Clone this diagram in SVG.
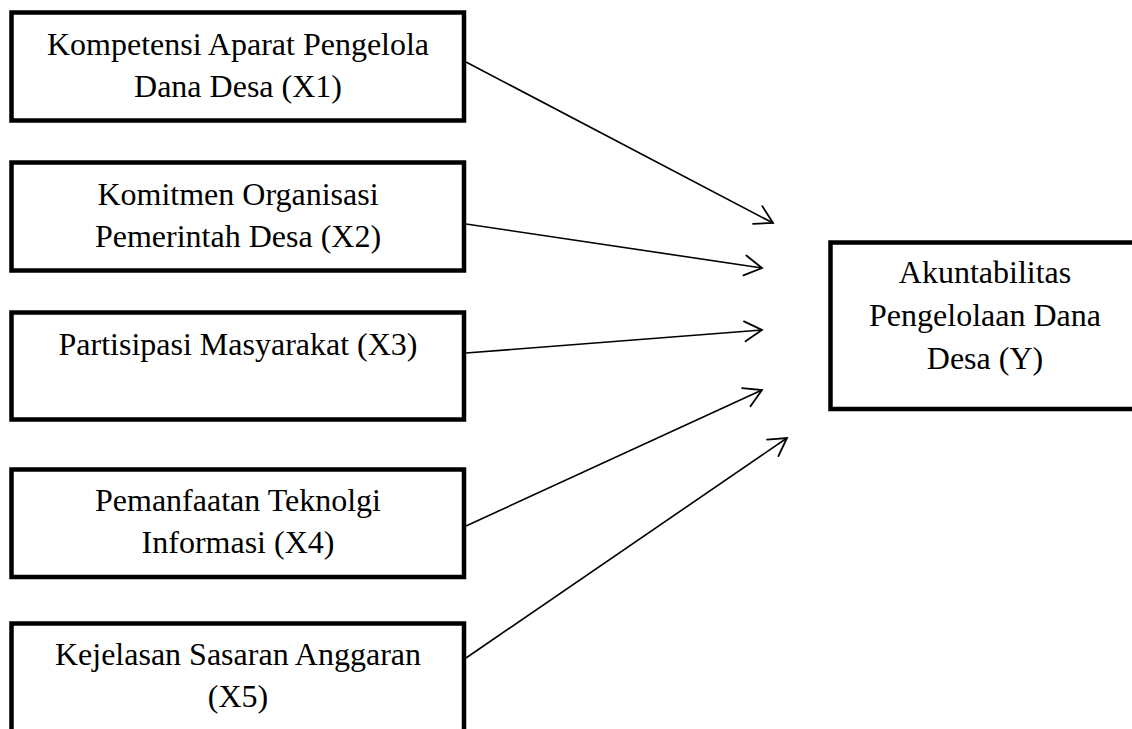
<svg xmlns="http://www.w3.org/2000/svg" width="1132" height="729" viewBox="0 0 1132 729">
<style>
.box{fill:#fff;stroke:#000;stroke-width:4.5}
.t{font-family:"Liberation Serif","Times New Roman",serif;font-size:32px;fill:#000;text-anchor:middle}
.c{stroke:#000;stroke-width:1.6;fill:none;marker-end:url(#ah)}
</style>
<defs>
<marker id="ah" markerUnits="userSpaceOnUse" orient="auto" markerWidth="40" markerHeight="40" viewBox="-20 -20 40 40" refX="0" refY="0">
<path d="M-17.3,-10 L0,0 L-17.3,10" fill="none" stroke="#000" stroke-width="1.8" stroke-linecap="round" stroke-linejoin="miter"/>
</marker>
</defs>
<rect width="1132" height="729" fill="#fff"/>
<g id="x1">
<rect class="box" x="11.5" y="12.5" width="452.5" height="108"/>
<text class="t" x="238" y="55">Kompetensi Aparat Pengelola</text>
<text class="t" x="238" y="97">Dana Desa (X1)</text>
</g>
<g id="x2">
<rect class="box" x="11.5" y="162.5" width="452.5" height="108"/>
<text class="t" x="238" y="205">Komitmen Organisasi</text>
<text class="t" x="238" y="247">Pemerintah Desa (X2)</text>
</g>
<g id="x3">
<rect class="box" x="11.5" y="312.5" width="452.5" height="107"/>
<text class="t" x="238" y="355">Partisipasi Masyarakat (X3)</text>
</g>
<g id="x4">
<rect class="box" x="11.5" y="469.5" width="452.5" height="107.5"/>
<text class="t" x="238" y="511">Pemanfaatan Teknolgi</text>
<text class="t" x="238" y="553">Informasi (X4)</text>
</g>
<g id="x5">
<rect class="box" x="11.5" y="623.5" width="452.5" height="140"/>
<text class="t" x="238" y="665">Kejelasan Sasaran Anggaran</text>
<text class="t" x="238" y="707">(X5)</text>
</g>
<g id="y">
<rect class="box" x="830.5" y="242.5" width="320" height="166.5"/>
<text class="t" x="985" y="283">Akuntabilitas</text>
<text class="t" x="985" y="326">Pengelolaan Dana</text>
<text class="t" x="985" y="369">Desa (Y)</text>
</g>
<g id="connectors">
<line class="c" x1="466" y1="62" x2="773" y2="223"/>
<line class="c" x1="466" y1="224" x2="762" y2="268"/>
<line class="c" x1="466" y1="353" x2="762" y2="330"/>
<line class="c" x1="466" y1="526" x2="762" y2="390"/>
<line class="c" x1="466" y1="658" x2="787" y2="438"/>
</g>
</svg>
